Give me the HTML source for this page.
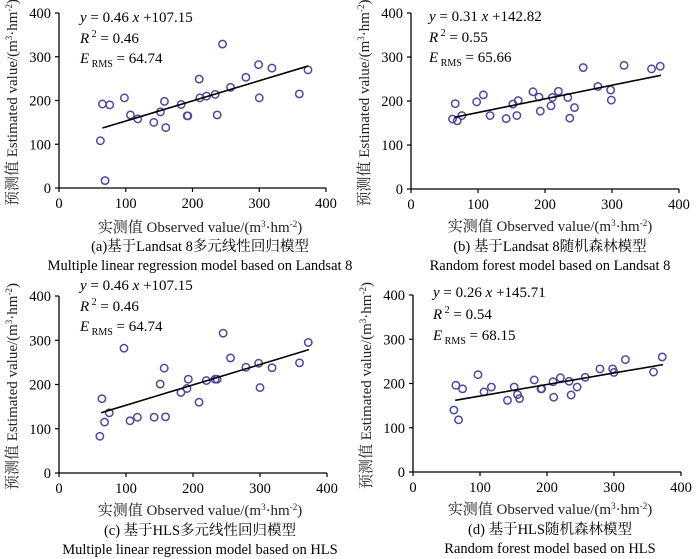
<!DOCTYPE html>
<html><head><meta charset="utf-8"><style>
html,body{margin:0;padding:0;background:#fff;}
svg{display:block;font-family:"Liberation Serif","Noto Serif CJK SC",serif;}
</style></head><body>
<svg id="fig" width="700" height="559" viewBox="0 0 700 559" xmlns="http://www.w3.org/2000/svg"></svg>
<script>
const xTicks = [0,100,200,300,400];
const yTicks = [0,100,200,300,400];
const obsA = [62,69,65,76,98,107,118,142,152,158,160,183,192,193,210,211,221,234,237,245,257,280,299,300,319,360,373];
const estA = [108,17,192,190,206,167,158,150,174,198,138,191,165,165,249,206,210,214,167,329,230,253,282,206,274,215,270];
const obsB = [62,66,69,76,98,108,118,142,152,158,160,182,191,193,209,211,220,234,237,244,257,279,298,299,318,359,372];
const estB = [159,194,155,167,198,214,167,160,193,167,201,221,209,177,189,208,222,208,161,185,276,233,225,202,281,273,279];
const obsC = [61,64,68,75,97,106,117,142,151,157,159,182,191,193,209,220,233,236,245,256,279,298,300,318,359,372];
const estC = [83,168,115,136,282,118,126,126,201,237,127,182,191,212,160,209,212,212,316,260,239,248,193,238,249,295];
const obsD = [61,64,68,74,97,106,117,141,151,156,159,181,191,192,209,210,220,233,236,245,257,279,298,300,317,359,372];
const estD = [140,196,118,188,220,181,192,162,192,175,166,208,188,188,204,169,213,205,174,192,214,233,233,225,254,226,260];
const slopes = [0.46,0.31,0.46,0.26];
const intercepts = [107.15,142.82,107.15,145.71];
const fitRange = [[65,373],[65,373],[63,373],[63,373]];
const eqTexts = [["0.46","107.15","0.46","64.74"],["0.31","142.82","0.55","65.66"],["0.46","107.15","0.46","64.74"],["0.26","145.71","0.54","68.15"]];
const captionsCN = ["(a)基于Landsat 8多元线性回归模型","(b) 基于Landsat 8随机森林模型","(c) 基于HLS多元线性回归模型","(d) 基于HLS随机森林模型"];
const captionsEN = ["Multiple linear regression model based on Landsat 8","Random forest model based on Landsat 8","Multiple linear regression model based on HLS","Random forest model based on HLS"];

const NS="http://www.w3.org/2000/svg";
const svg=document.getElementById('fig');
function mk(tag,attrs,parent,text){const e=document.createElementNS(NS,tag);for(const k in attrs)e.setAttribute(k,attrs[k]);if(text!==undefined)e.textContent=text;parent.appendChild(e);return e;}
const panels=[
 {x0:59,x1:326,y0:188,y1:13,obs:obsA,est:estA,eqX:80,eqY:[22,43,63],cx:200,tY:232,c1:251,c2:270},
 {x0:411,x1:679,y0:189,y1:13,obs:obsB,est:estB,eqX:429,eqY:[21,42,62],cx:550,tY:231,c1:251,c2:270},
 {x0:59,x1:327,y0:473,y1:296,obs:obsC,est:estC,eqX:80,eqY:[290,311,331],cx:200,tY:515,c1:535,c2:554},
 {x0:413,x1:681,y0:472,y1:295,obs:obsD,est:estD,eqX:433,eqY:[297,319,340],cx:550,tY:514,c1:534,c2:553}
];
panels.forEach((p,i)=>{
 const g=mk('g',{},svg);
 
 
 const sx=v=>p.x0+(p.x1-p.x0)*v/400, sy=v=>p.y0-(p.y0-p.y1)*v/400;
 const ax=mk('path',{d:`M${p.x0},${p.y1} V${p.y0} H${p.x1}`,fill:'none',stroke:'#000','stroke-width':1.3},g);
 
 
 yTicks.forEach(t=>{const y=sy(t);mk('line',{x1:p.x0-4,x2:p.x0,y1:y,y2:y,stroke:'#000','stroke-width':1.2},g);
  const tl=mk('text',{x:p.x0-8,y:y+5,'font-size':14.5,'text-anchor':'end'},g,t);
  
  });
 xTicks.forEach(t=>{const x=sx(t);mk('line',{x1:x,x2:x,y1:p.y0,y2:p.y0+4,stroke:'#000','stroke-width':1.2},g);
  const tl=mk('text',{x:x,y:p.y0+20,'font-size':14.5,'text-anchor':'middle'},g,t);
  
  });
 p.obs.forEach((o,j)=>{const c=mk('circle',{cx:sx(o),cy:sy(p.est[j]),r:3.7,fill:'none',stroke:'#4a4a9c','stroke-width':1.5},g);
  
  });
 const [a,b]=fitRange[i];
 const fl=mk('line',{x1:sx(a),y1:sy(slopes[i]*a+intercepts[i]),x2:sx(b),y2:sy(slopes[i]*b+intercepts[i]),stroke:'#000','stroke-width':1.6},g);
 
 
 const e=eqTexts[i];
 const t1=mk('text',{x:p.eqX,y:p.eqY[0],'font-size':15},g);
 t1.innerHTML=`<tspan font-style="italic">y</tspan> = ${e[0]} <tspan font-style="italic">x</tspan> +${e[1]}`;
 
 
 const t2=mk('text',{x:p.eqX,y:p.eqY[1],'font-size':15},g);
 t2.innerHTML=`<tspan font-style="italic">R</tspan><tspan dy="-6" font-size="10"> 2</tspan><tspan dy="6"> = ${e[2]}</tspan>`;
 
 
 const t3=mk('text',{x:p.eqX,y:p.eqY[2],'font-size':15},g);
 t3.innerHTML=`<tspan font-style="italic">E</tspan><tspan dy="4" font-size="10"> RMS</tspan><tspan dy="-4"> = ${e[3]}</tspan>`;
 
 
 const yc=(p.y0+p.y1)/2+2, yx=p.x0-42;
 const yt=mk('text',{x:yx,y:yc,'font-size':15,'text-anchor':'middle',transform:`rotate(-90 ${yx} ${yc})`,fill:'#222'},g);
 yt.innerHTML='预测值 Estimated value/(m<tspan dy="-5" font-size="9">3</tspan><tspan dy="5">·hm</tspan><tspan dy="-5" font-size="9">-2</tspan><tspan dy="5">)</tspan>';
 
 
 const xt=mk('text',{x:p.cx,y:p.tY,'font-size':15,'text-anchor':'middle',fill:'#222'},g);
 xt.innerHTML='实测值 Observed value/(m<tspan dy="-5" font-size="9">3</tspan><tspan dy="5">·hm</tspan><tspan dy="-5" font-size="9">-2</tspan><tspan dy="5">)</tspan>';
 
 
 const c1=mk('text',{x:p.cx,y:p.c1,'font-size':14.5,'text-anchor':'middle'},g,captionsCN[i]);
 
 
 const c2=mk('text',{x:p.cx,y:p.c2,'font-size':14.5,'text-anchor':'middle'},g,captionsEN[i]);
 
 
});
</script>
</body></html>
